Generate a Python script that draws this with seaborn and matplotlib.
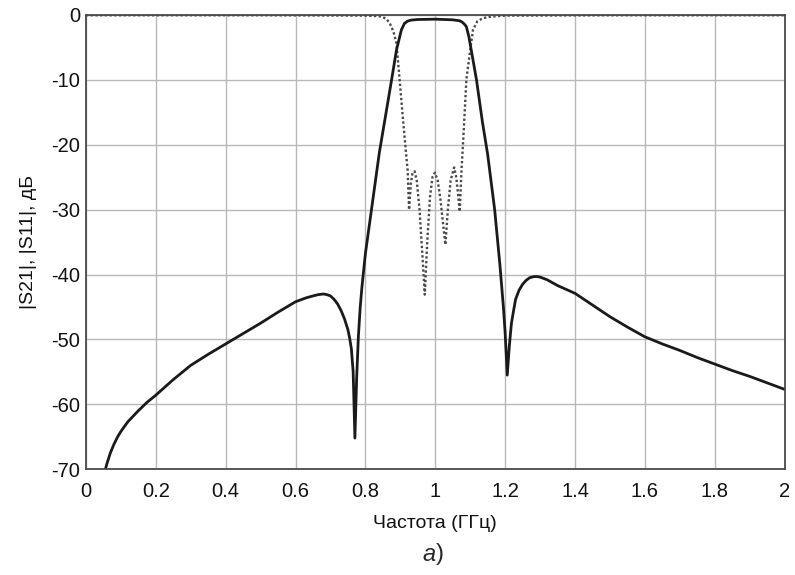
import matplotlib
matplotlib.use("Agg")
import matplotlib.pyplot as plt
import numpy as np
import seaborn as sns
import pandas as pd

# |S21| (solid) - frequency in GHz, level in dB
s21_f = [0.056, 0.06, 0.07, 0.08, 0.09, 0.10, 0.12, 0.15, 0.175, 0.20, 0.25,
         0.30, 0.35, 0.40, 0.45, 0.50, 0.55, 0.60, 0.63, 0.65, 0.665, 0.68,
         0.69, 0.70, 0.71, 0.72, 0.73, 0.74, 0.75, 0.755, 0.76, 0.765, 0.770,
         0.775, 0.780, 0.785, 0.79, 0.80, 0.82, 0.84, 0.86, 0.875, 0.889,
         0.903, 0.912, 0.921, 0.93, 0.95, 1.00, 1.05, 1.07, 1.077, 1.083,
         1.089, 1.096, 1.103, 1.118, 1.135, 1.150, 1.170, 1.185, 1.195,
         1.200, 1.206, 1.212, 1.218, 1.225, 1.23, 1.24, 1.25, 1.26, 1.27,
         1.28, 1.29, 1.30, 1.32, 1.35, 1.40, 1.45, 1.50, 1.55, 1.60, 1.65,
         1.70, 1.75, 1.80, 1.85, 1.90, 1.95, 2.00]
s21_db = [-70, -69.2, -67.5, -66.2, -65.1, -64.2, -62.7, -61.0, -59.7, -58.6, -56.2,
          -54.0, -52.3, -50.7, -49.1, -47.5, -45.8, -44.2, -43.6, -43.3, -43.1, -43.0,
          -43.1, -43.3, -43.8, -44.5, -45.5, -46.8, -48.5, -49.8, -51.5, -55, -65.2,
          -56, -49.5, -45.2, -42, -36.8, -29, -21.2, -14.8, -10, -5.4,
          -2.3, -1.3, -0.95, -0.8, -0.7, -0.65, -0.75, -0.9, -1.1, -1.4,
          -1.8, -3.3, -5.4, -10, -16.5, -21.5, -30, -38.5, -45,
          -49, -55.5, -51, -47.5, -45.3, -43.8, -42.4, -41.5, -40.9, -40.5,
          -40.35, -40.3, -40.4, -40.8, -41.7, -42.9, -44.7, -46.5, -48.1, -49.6, -50.7,
          -51.7, -52.8, -53.8, -54.8, -55.7, -56.7, -57.7]

# |S11| (dotted)
s11_f = [0.0, 0.5, 0.80, 0.84, 0.85, 0.86, 0.87, 0.88, 0.889, 0.898, 0.907, 0.915,
         0.921, 0.925, 0.930, 0.935, 0.941, 0.947, 0.955, 0.962, 0.970, 0.977,
         0.985, 0.992, 0.999, 1.007, 1.015, 1.022, 1.029, 1.036, 1.044, 1.054,
         1.060, 1.065, 1.070, 1.075, 1.080, 1.089, 1.100, 1.108, 1.120, 1.136,
         1.16, 1.20, 1.50, 2.00]
s11_db = [-0.05, -0.05, -0.1, -0.2, -0.35, -0.6, -1.3, -2.5, -4.4, -10, -15.7, -20.5,
          -24, -30, -26, -24.3, -24.1, -25.5, -30, -36, -43.1, -35,
          -28, -25, -24.3, -25.5, -28.5, -32, -35.4, -30, -25.5, -23.5,
          -25, -27.5, -30.3, -24, -19.3, -10, -5.4, -2.3, -1.0, -0.5,
          -0.25, -0.1, -0.05, -0.05]

x_ticks = [0, 0.2, 0.4, 0.6, 0.8, 1, 1.2, 1.4, 1.6, 1.8, 2]
x_labels = ["0", "0.2", "0.4", "0.6", "0.8", "1", "1.2", "1.4", "1.6", "1.8", "2"]
y_ticks = [0, -10, -20, -30, -40, -50, -60, -70]

df21 = pd.DataFrame({"f": s21_f, "db": s21_db})
df11 = pd.DataFrame({"f": s11_f, "db": s11_db})

sns.set_style("whitegrid")
plt.rcParams['font.family'] = ['Liberation Sans', 'DejaVu Sans']
plt.rcParams['axes.unicode_minus'] = False

fig = plt.figure(figsize=(7.95, 5.75), dpi=100)
ax = fig.add_axes([0.108, 0.184, 0.879, 0.790])

sns.lineplot(data=df11, x="f", y="db", ax=ax, sort=False, color="#4a4a4a",
             linewidth=1.7, linestyle=(0, (1, 1)))
sns.lineplot(data=df21, x="f", y="db", ax=ax, sort=False, color="#1a1a1a",
             linewidth=2.0)

ax.set_xlim(0, 2)
ax.set_ylim(-70, 0)
ax.set_xticks(x_ticks)
ax.set_xticklabels(x_labels)
ax.set_yticks(y_ticks)
ax.grid(True, color="#b8b8b8", linewidth=1.0)
ax.tick_params(axis="both", length=0, labelsize=14.5, colors="#111111")
ax.tick_params(axis="x", pad=9)
ax.tick_params(axis="y", pad=4)
for s in ax.spines.values():
    s.set_visible(True)
    s.set_color("#4a4a4a")
    s.set_linewidth(1.3)

ax.set_xlabel("Частота (ГГц)", fontsize=14, color="#111111", labelpad=10)
ax.set_ylabel("|S21|, |S11|, дБ", fontsize=14, color="#111111", labelpad=10)

fig.text(0.548, 0.036, "а", style="italic", fontsize=17, ha="right", va="center")
fig.text(0.548, 0.036, ")", fontsize=17, ha="left", va="center")

fig.savefig("out.png", dpi=100)
